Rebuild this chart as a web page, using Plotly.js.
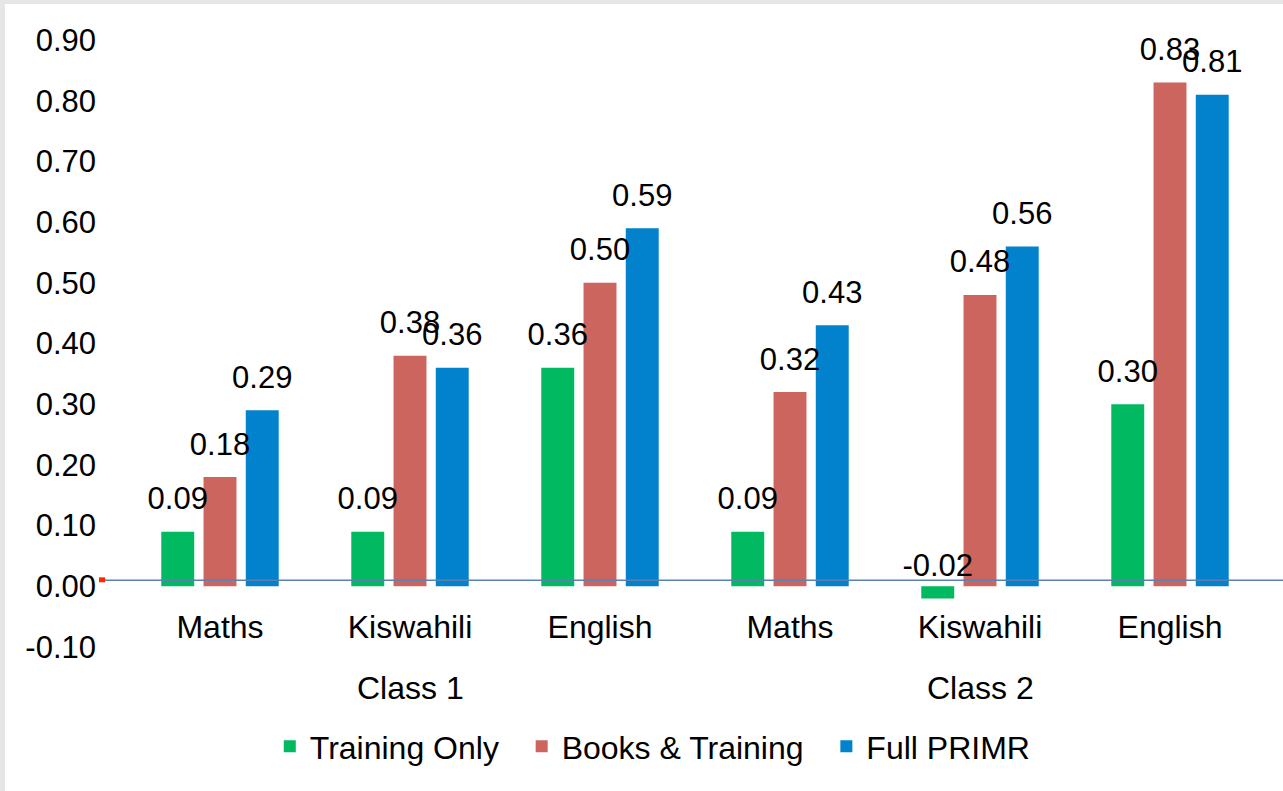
<!DOCTYPE html>
<html>
<head>
<meta charset="utf-8">
<script src="https://cdn.plot.ly/plotly-3.0.1.min.js"></script>
<style>
  html, body { margin: 0; padding: 0; background: #e6e6e6; width: 1283px; height: 791px; overflow: hidden; }
  #chart { position: absolute; left: 5px; top: 4px; width: 1278px; height: 787px; background: #ffffff; }
</style>
</head>
<body>
<div id="chart"></div>
<script>
// ---- data ----
const classes = ["Class 1", "Class 1", "Class 1", "Class 2", "Class 2", "Class 2"];
const subjects = ["Maths", "Kiswahili", "English", "Maths", "Kiswahili", "English"];
const classLabels = ["Class 1", "Class 2"];
const seriesNames = ["Training Only", "Books & Training", "Full PRIMR"];
const trainingOnly = [0.09, 0.09, 0.36, 0.09, -0.02, 0.30];
const booksTraining = [0.18, 0.38, 0.50, 0.32, 0.48, 0.83];
const fullPrimr = [0.29, 0.36, 0.59, 0.43, 0.56, 0.81];
const yTickVals = [-0.1, 0, 0.1, 0.2, 0.3, 0.4, 0.5, 0.6, 0.7, 0.8, 0.9];

// ---- styles ----
const colors = ["#00b960", "#cc655e", "#0282cd"];
const FONT = "Liberation Sans, Arial, sans-serif";
const FS = 31;
const FS_CAT = 32;
const BARGAP = 0.333;
const LEGEND_PAD = "\u00a0\u00a0"; // extra spacing between legend entries

// unique category keys (class + subject), shown with subject text only
const xKeys = classes.map((c, i) => c + " | " + subjects[i]);
const seriesValues = [trainingOnly, booksTraining, fullPrimr];

const traces = [];
seriesValues.forEach((vals, i) => {
  traces.push({
    type: "bar",
    name: seriesNames[i] + (i < seriesNames.length - 1 ? LEGEND_PAD : ""),
    x: xKeys,
    y: vals,
    marker: { color: colors[i] },
    hoverinfo: "skip"
  });
});
seriesValues.forEach((vals, i) => {
  traces.push({
    type: "scatter",
    mode: "markers+text",
    x: xKeys,
    y: vals,
    text: vals.map(v => v.toFixed(2)),
    textposition: "top center",
    textfont: { family: FONT, size: FS, color: "#000000" },
    marker: { size: 22, opacity: 0 },
    showlegend: false,
    hoverinfo: "skip",
    cliponaxis: false
  });
});

// class labels centred under each group of subjects
const classAnnotations = classLabels.map(cl => {
  const idx = classes.map((c, i) => c === cl ? i : -1).filter(i => i >= 0);
  const mid = idx[Math.floor(idx.length / 2)];
  return {
    text: cl, x: xKeys[mid], xref: "x",
    y: -0.068, yref: "paper", yanchor: "middle",
    showarrow: false,
    font: { family: FONT, size: FS_CAT, color: "#000000" }
  };
});

const layout = {
  width: 1278,
  height: 787,
  margin: { l: 120, r: 18, t: 36, b: 144 },
  paper_bgcolor: "#ffffff",
  plot_bgcolor: "#ffffff",
  font: { family: FONT, size: FS, color: "#000000" },
  barmode: "group",
  bargap: BARGAP,
  bargroupgap: 0.22,
  scattermode: "group",
  scattergap: BARGAP,
  showlegend: true,
  legend: {
    orientation: "h",
    x: 0.127, xanchor: "left",
    y: -0.164, yanchor: "middle",
    font: { family: FONT, size: FS_CAT, color: "#000000" },
    bgcolor: "rgba(0,0,0,0)",
    traceorder: "normal"
  },
  xaxis: {
    type: "category",
    tickmode: "array",
    tickvals: xKeys,
    ticktext: subjects,
    showline: false,
    showgrid: false,
    zeroline: false,
    ticks: "",
    anchor: "free",
    position: 0.07,
    tickfont: { family: FONT, size: FS_CAT, color: "#000000" }
  },
  yaxis: {
    range: [-0.1, 0.9],
    tickvals: yTickVals,
    ticktext: yTickVals.map(v => v.toFixed(2)),
    showgrid: false,
    zeroline: false,
    showline: false,
    ticks: "",
    ticklabelstandoff: 28,
    tickfont: { family: FONT, size: FS, color: "#000000" }
  },
  annotations: classAnnotations,
  shapes: [
    {
      type: "line", xref: "paper", yref: "y",
      x0: -0.0175, x1: 1.0158, y0: 0.01, y1: 0.01,
      line: { color: "#5b80b2", width: 1.5 },
      layer: "above"
    },
    {
      type: "rect", xref: "paper", yref: "y",
      x0: -0.0228, x1: -0.0175, y0: 0.0066, y1: 0.0148,
      line: { width: 0 }, fillcolor: "#ff2a00",
      layer: "above"
    }
  ]
};

Plotly.newPlot("chart", traces, layout, { displayModeBar: false, staticPlot: true });
</script>
</body>
</html>
